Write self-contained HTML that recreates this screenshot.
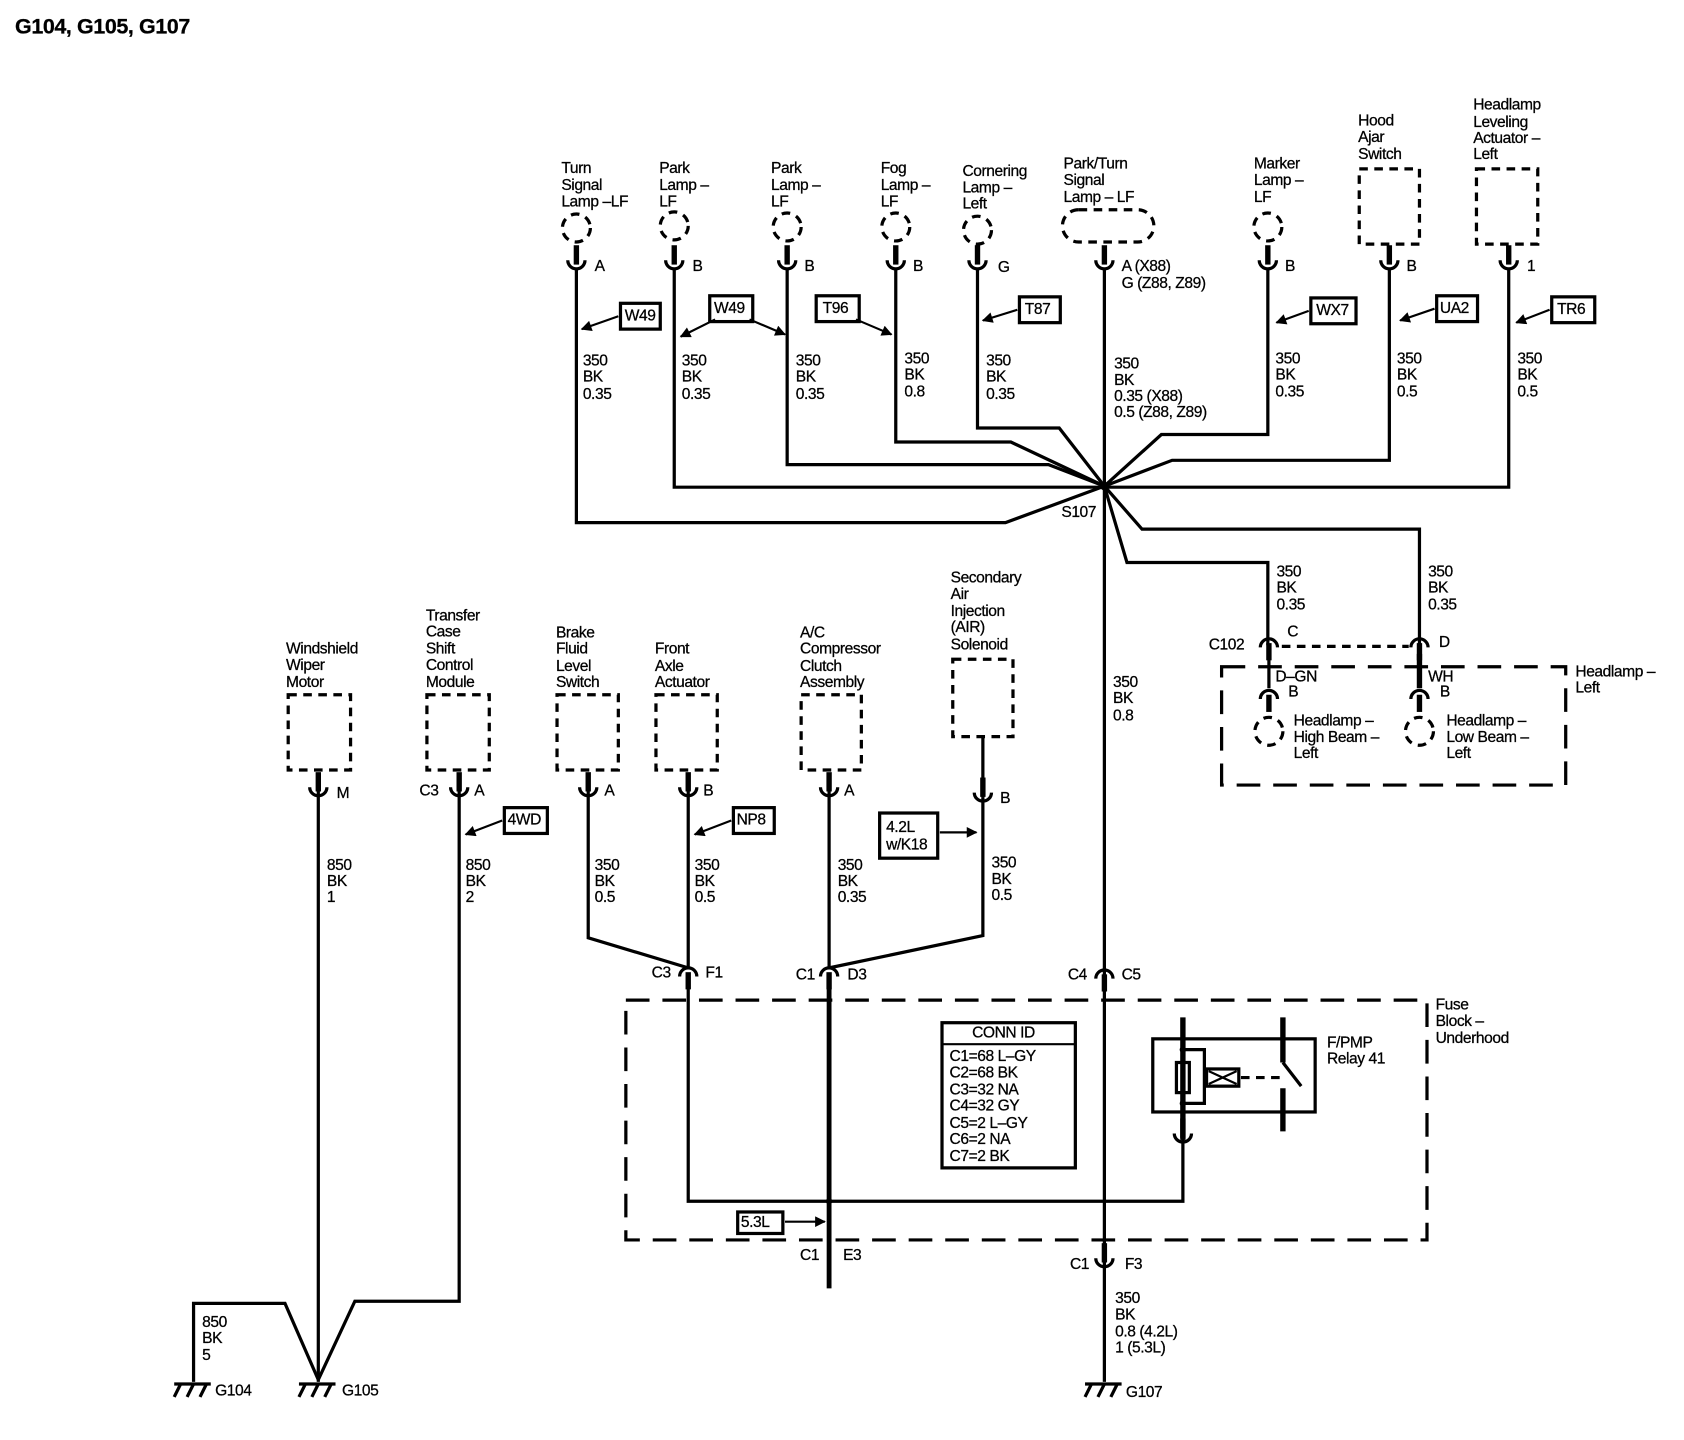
<!DOCTYPE html>
<html><head><meta charset="utf-8"><style>
html,body{margin:0;padding:0;background:#fff}
svg{display:block}
text{font-family:"Liberation Sans",Arial,sans-serif;font-size:14.5px;fill:#000;stroke:#000;stroke-width:0.25;dominant-baseline:middle;letter-spacing:-0.4px}
</style></head><body>
<svg width="1684" height="1440" viewBox="0 0 1566 1339" xmlns="http://www.w3.org/2000/svg">
<defs>
<g id="cu"><line x1="0" y1="-22" x2="0" y2="-4" stroke="#000" stroke-width="5"/><path d="M-8,-8 A8,8 0 0 0 8,-8" fill="none" stroke="#000" stroke-width="3"/></g>
<g id="cd"><line x1="0" y1="4" x2="0" y2="20" stroke="#000" stroke-width="5"/><path d="M-8,8 A8,8 0 0 1 8,8" fill="none" stroke="#000" stroke-width="3"/></g>
<g id="gnd"><line x1="-18" y1="0" x2="16" y2="0" stroke="#000" stroke-width="3"/><path d="M-12,0 L-18,12 M0,0 L-6,12 M12,0 L6,12" stroke="#000" stroke-width="3"/></g>
<marker id="ar" viewBox="0 0 10 10" refX="9" refY="5" markerWidth="14" markerHeight="10" markerUnits="userSpaceOnUse" orient="auto"><path d="M0,0 L10,5 L0,10 z" fill="#000"/></marker>
</defs>
<text x="14" y="26" style="font-size:20px;font-weight:bold">G104, G105, G107</text>

<g fill="none" stroke="#000" stroke-width="3">
<!-- top wires -->
<polyline points="536,250 536,486 935,486 1027,452"/>
<polyline points="627,250 627,453 1027,453"/>
<polyline points="732,250 732,432 975,432 1027,452"/>
<polyline points="833,250 833,411 940,411 1027,452"/>
<polyline points="909,250 909,398 985,398 1027,452"/>
<line x1="1027" y1="250" x2="1027" y2="1285"/>
<polyline points="1179,250 1179,404 1080,404 1027,452"/>
<polyline points="1292,250 1292,428 1090,428 1027,452"/>
<polyline points="1403,250 1403,453 1027,453"/>
<polyline points="1027,452 1062,492 1320,492 1320,600"/>
<polyline points="1027,452 1048,523 1179,523 1179,600"/>
<!-- bottom wires -->
<line x1="296" y1="732" x2="296" y2="1285"/>
<polyline points="427,732 427,1210 330,1210 296,1283"/>
<polyline points="180,1285 180,1212 265,1212 296,1283"/>
<polyline points="547,732 547,872 640,900"/>
<line x1="640" y1="732" x2="640" y2="900"/>
<line x1="771" y1="732" x2="771" y2="900"/>
<polyline points="914,685 914,742"/>
<polyline points="914,742 914,870 771,900"/>
<polyline points="640,918 640,1117 1100,1117 1100,1058"/>
<line x1="771" y1="918" x2="771" y2="1198" stroke-width="4.5"/>
</g>
<circle cx="1027" cy="452" r="4"/>
<circle cx="771" cy="1117" r="3"/>

<!-- dashed components -->
<g fill="none" stroke="#000" stroke-width="3" stroke-dasharray="8,6">
<circle cx="536" cy="212" r="13"/><circle cx="627" cy="210" r="13"/><circle cx="732" cy="211" r="13"/>
<circle cx="833" cy="211" r="13"/><circle cx="909" cy="214" r="13"/><circle cx="1179" cy="211" r="13"/>
<rect x="988" y="195" width="85" height="30" rx="15"/>
<rect x="1264" y="157" width="56" height="70"/><rect x="1373" y="157" width="57" height="70"/>
<rect x="268" y="646" width="58" height="70"/><rect x="397" y="646" width="58" height="70"/>
<rect x="518" y="646" width="57" height="70"/><rect x="610" y="646" width="57" height="70"/>
<rect x="745" y="646" width="56" height="70"/><rect x="886" y="613" width="56" height="72"/>
<circle cx="1180" cy="680" r="13"/><circle cx="1320" cy="680" r="13"/>
<line x1="1192" y1="601" x2="1310" y2="601"/>
</g>
<g fill="none" stroke="#000" stroke-width="3" stroke-dasharray="22,12">
<rect x="1136" y="620" width="320" height="110"/>
<rect x="582" y="930" width="745" height="223"/>
</g>
<line x1="1180" y1="608" x2="1180" y2="640" stroke="#000" stroke-width="3"/>
<line x1="1320" y1="608" x2="1320" y2="640" stroke="#000" stroke-width="5"/>

<!-- connectors -->
<g>
<use href="#cu" x="536" y="250"/><use href="#cu" x="627" y="250"/><use href="#cu" x="732" y="250"/>
<use href="#cu" x="833" y="250"/><use href="#cu" x="909" y="250"/><use href="#cu" x="1027" y="250"/>
<use href="#cu" x="1179" y="250"/><use href="#cu" x="1292" y="250"/><use href="#cu" x="1403" y="250"/>
<use href="#cu" x="296" y="740"/><use href="#cu" x="427" y="740"/><use href="#cu" x="547" y="740"/>
<use href="#cu" x="640" y="740"/><use href="#cu" x="771" y="740"/><use href="#cu" x="914" y="745"/>
<use href="#cu" x="1100" y="1062"/>
<use href="#cd" x="640" y="900"/><use href="#cd" x="771" y="900"/><use href="#cd" x="1027" y="902"/>
<use href="#cd" x="1180" y="594"/><use href="#cd" x="1320" y="594"/>
<use href="#cd" x="1180" y="642"/><use href="#cd" x="1320" y="642"/>
<use href="#cu" x="1027" y="1178"/>
<use href="#gnd" x="180" y="1287"/><use href="#gnd" x="296" y="1287"/><use href="#gnd" x="1027" y="1287"/>
</g>

<!-- relay -->
<g fill="none" stroke="#000" stroke-width="3">
<rect x="1072" y="966" width="151" height="68"/>
<line x1="1100" y1="946" x2="1100" y2="1060" stroke-width="5"/>
<line x1="1193" y1="946" x2="1193" y2="988" stroke-width="5"/>
<line x1="1193" y1="1012" x2="1193" y2="1052" stroke-width="5"/>
<rect x="1094" y="988" width="12" height="28"/>
<polyline points="1100,976 1120,976 1120,1026 1100,1026"/>
<rect x="1122" y="994" width="30" height="16"/>
<path d="M1124,996 L1150,1008 M1124,1008 L1150,996" stroke-width="2"/>
<line x1="1154" y1="1002" x2="1190" y2="1002" stroke-dasharray="8,6"/>
<line x1="1193" y1="988" x2="1210" y2="1010"/>
</g>
<circle cx="1100" cy="976" r="3"/><circle cx="1100" cy="1026" r="3"/>

<!-- CONN ID -->
<rect x="876" y="951" width="124" height="135" fill="none" stroke="#000" stroke-width="3"/>
<line x1="876" y1="971" x2="1000" y2="971" stroke="#000" stroke-width="2"/>
<text x="904" y="961">CONN ID</text>
<text x="883" y="983">C1=68 L–GY</text><text x="883" y="998">C2=68 BK</text>
<text x="883" y="1014">C3=32 NA</text><text x="883" y="1029">C4=32 GY</text>
<text x="883" y="1045">C5=2 L–GY</text><text x="883" y="1060">C6=2 NA</text>
<text x="883" y="1076">C7=2 BK</text>

<!-- option boxes -->
<g fill="none" stroke="#000" stroke-width="3">
<rect x="577" y="282" width="37" height="24"/><rect x="660" y="275" width="40" height="24"/>
<rect x="759" y="275" width="40" height="24"/><rect x="948" y="276" width="38" height="24"/>
<rect x="1219" y="277" width="42" height="24"/><rect x="1336" y="275" width="38" height="24"/>
<rect x="1443" y="276" width="40" height="24"/>
<rect x="469" y="751" width="40" height="24"/><rect x="682" y="751" width="38" height="24"/>
<rect x="818" y="756" width="54" height="42"/><rect x="686" y="1127" width="42" height="20"/>
</g>
<g stroke="#000" stroke-width="2" marker-end="url(#ar)">
<line x1="575" y1="294" x2="541" y2="306"/>
<line x1="665" y1="297" x2="633" y2="313"/><line x1="697" y1="297" x2="730" y2="311"/>
<line x1="796" y1="297" x2="829" y2="311"/><line x1="946" y1="288" x2="914" y2="298"/>
<line x1="1217" y1="289" x2="1187" y2="300"/><line x1="1334" y1="287" x2="1302" y2="298"/>
<line x1="1441" y1="288" x2="1410" y2="300"/>
<line x1="467" y1="763" x2="433" y2="776"/><line x1="680" y1="763" x2="646" y2="776"/>
<line x1="874" y1="774" x2="908" y2="774"/><line x1="730" y1="1136" x2="767" y2="1136"/>
</g>
<text x="581" y="294">W49</text><text x="664" y="287">W49</text><text x="765" y="287">T96</text>
<text x="953" y="288">T87</text><text x="1224" y="289">WX7</text><text x="1339" y="287">UA2</text>
<text x="1448" y="288">TR6</text><text x="472" y="763">4WD</text><text x="685" y="763">NP8</text>
<text x="824" y="770">4.2L</text><text x="824" y="786">w/K18</text><text x="689" y="1137">5.3L</text>

<!-- component labels -->
<g>
<text x="522" y="157">Turn</text><text x="522" y="173">Signal</text><text x="522" y="188">Lamp –LF</text>
<text x="613" y="157">Park</text><text x="613" y="173">Lamp –</text><text x="613" y="188">LF</text>
<text x="717" y="157">Park</text><text x="717" y="173">Lamp –</text><text x="717" y="188">LF</text>
<text x="819" y="157">Fog</text><text x="819" y="173">Lamp –</text><text x="819" y="188">LF</text>
<text x="895" y="160">Cornering</text><text x="895" y="175">Lamp –</text><text x="895" y="190">Left</text>
<text x="989" y="153">Park/Turn</text><text x="989" y="168">Signal</text><text x="989" y="184">Lamp – LF</text>
<text x="1166" y="153">Marker</text><text x="1166" y="168">Lamp –</text><text x="1166" y="184">LF</text>
<text x="1263" y="113">Hood</text><text x="1263" y="128">Ajar</text><text x="1263" y="144">Switch</text>
<text x="1370" y="98">Headlamp</text><text x="1370" y="114">Leveling</text><text x="1370" y="129">Actuator –</text><text x="1370" y="144">Left</text>

<text x="553" y="248">A</text><text x="644" y="248">B</text><text x="748" y="248">B</text><text x="849" y="248">B</text>
<text x="928" y="249">G</text><text x="1043" y="248">A (X88)</text><text x="1043" y="264">G (Z88, Z89)</text>
<text x="1195" y="248">B</text><text x="1308" y="248">B</text><text x="1420" y="248">1</text>

<text x="542" y="336">350</text><text x="542" y="351">BK</text><text x="542" y="367">0.35</text>
<text x="634" y="336">350</text><text x="634" y="351">BK</text><text x="634" y="367">0.35</text>
<text x="740" y="336">350</text><text x="740" y="351">BK</text><text x="740" y="367">0.35</text>
<text x="841" y="334">350</text><text x="841" y="349">BK</text><text x="841" y="365">0.8</text>
<text x="917" y="336">350</text><text x="917" y="351">BK</text><text x="917" y="367">0.35</text>
<text x="1036" y="339">350</text><text x="1036" y="354">BK</text><text x="1036" y="369">0.35 (X88)</text><text x="1036" y="384">0.5 (Z88, Z89)</text>
<text x="1186" y="334">350</text><text x="1186" y="349">BK</text><text x="1186" y="365">0.35</text>
<text x="1299" y="334">350</text><text x="1299" y="349">BK</text><text x="1299" y="365">0.5</text>
<text x="1411" y="334">350</text><text x="1411" y="349">BK</text><text x="1411" y="365">0.5</text>
<text x="987" y="477">S107</text>

<text x="1187" y="532">350</text><text x="1187" y="547">BK</text><text x="1187" y="563">0.35</text>
<text x="1328" y="532">350</text><text x="1328" y="547">BK</text><text x="1328" y="563">0.35</text>
<text x="1124" y="600">C102</text><text x="1197" y="588">C</text><text x="1338" y="598">D</text>
<text x="1186" y="630">D–GN</text><text x="1198" y="644">B</text>
<text x="1328" y="630">WH</text><text x="1339" y="644">B</text>
<text x="1203" y="671">Headlamp –</text><text x="1203" y="686">High Beam –</text><text x="1203" y="701">Left</text>
<text x="1345" y="671">Headlamp –</text><text x="1345" y="686">Low Beam –</text><text x="1345" y="701">Left</text>
<text x="1465" y="625">Headlamp –</text><text x="1465" y="640">Left</text>
<text x="1035" y="635">350</text><text x="1035" y="650">BK</text><text x="1035" y="666">0.8</text>

<text x="266" y="604">Windshield</text><text x="266" y="619">Wiper</text><text x="266" y="635">Motor</text>
<text x="396" y="573">Transfer</text><text x="396" y="588">Case</text><text x="396" y="604">Shift</text><text x="396" y="619">Control</text><text x="396" y="635">Module</text>
<text x="517" y="589">Brake</text><text x="517" y="604">Fluid</text><text x="517" y="620">Level</text><text x="517" y="635">Switch</text>
<text x="609" y="604">Front</text><text x="609" y="620">Axle</text><text x="609" y="635">Actuator</text>
<text x="744" y="589">A/C</text><text x="744" y="604">Compressor</text><text x="744" y="620">Clutch</text><text x="744" y="635">Assembly</text>
<text x="884" y="538">Secondary</text><text x="884" y="553">Air</text><text x="884" y="569">Injection</text><text x="884" y="584">(AIR)</text><text x="884" y="600">Solenoid</text>

<text x="313" y="738">M</text><text x="390" y="736">C3</text><text x="441" y="736">A</text>
<text x="562" y="736">A</text><text x="654" y="736">B</text><text x="785" y="736">A</text><text x="930" y="743">B</text>
<text x="304" y="805">850</text><text x="304" y="820">BK</text><text x="304" y="835">1</text>
<text x="433" y="805">850</text><text x="433" y="820">BK</text><text x="433" y="835">2</text>
<text x="553" y="805">350</text><text x="553" y="820">BK</text><text x="553" y="835">0.5</text>
<text x="646" y="805">350</text><text x="646" y="820">BK</text><text x="646" y="835">0.5</text>
<text x="779" y="805">350</text><text x="779" y="820">BK</text><text x="779" y="835">0.35</text>
<text x="922" y="803">350</text><text x="922" y="818">BK</text><text x="922" y="833">0.5</text>

<text x="606" y="905">C3</text><text x="656" y="905">F1</text>
<text x="740" y="907">C1</text><text x="788" y="907">D3</text>
<text x="993" y="907">C4</text><text x="1043" y="907">C5</text>
<text x="1335" y="935">Fuse</text><text x="1335" y="950">Block –</text><text x="1335" y="966">Underhood</text>
<text x="1234" y="970">F/PMP</text><text x="1234" y="985">Relay 41</text>
<text x="744" y="1168">C1</text><text x="784" y="1168">E3</text>
<text x="995" y="1176">C1</text><text x="1046" y="1176">F3</text>
<text x="1037" y="1208">350</text><text x="1037" y="1223">BK</text><text x="1037" y="1239">0.8 (4.2L)</text><text x="1037" y="1254">1 (5.3L)</text>
<text x="188" y="1230">850</text><text x="188" y="1245">BK</text><text x="188" y="1261">5</text>
<text x="200" y="1294">G104</text><text x="318" y="1294">G105</text><text x="1047" y="1295">G107</text>
</g>
</svg>
</body></html>
